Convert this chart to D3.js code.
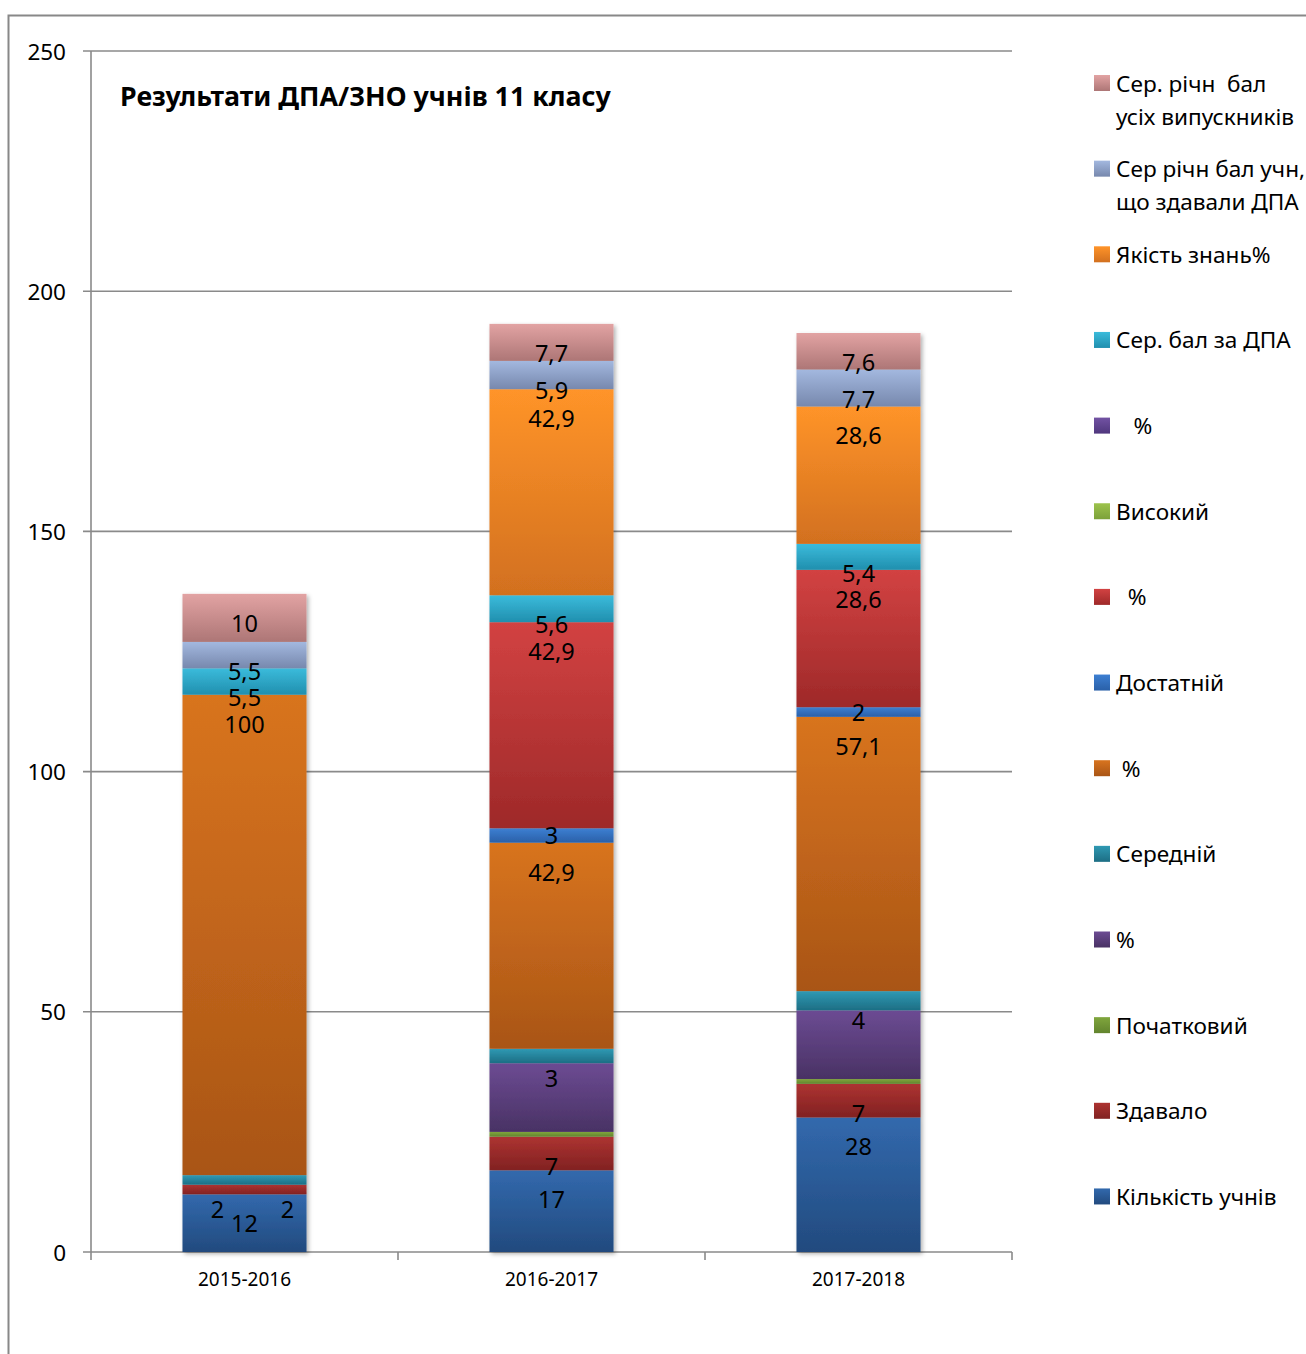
<!DOCTYPE html>
<html><head><meta charset="utf-8">
<script src="https://cdn.jsdelivr.net/npm/d3@7/dist/d3.min.js"></script>
<style>
html,body{margin:0;padding:0;background:#fff;}
svg{display:block;font-family:"Noto Sans","DejaVu Sans",sans-serif;}
</style></head>
<body>
<svg id="chart" width="1306" height="1354"></svg>
<script>
// ---- data ----
const categories = ["2015-2016", "2016-2017", "2017-2018"];
const seriesNames = [
  "Кількість учнів", "Здавало", "Початковий", "%", "Середній", " %",
  "Достатній", "  %", "Високий", "   %", "Сер. бал за ДПА", "Якість знань%",
  "Сер річн бал учн,|що здавали ДПА", "Сер. річн  бал|усіх випускників"
];
const kilkist      = [12, 17, 28];
const zdavalo      = [2, 7, 7];
const pochatkovyi  = [0, 1, 1];
const pctPoch      = [0, 14.3, 14.3];
const serednii     = [2, 3, 4];
const pctSer       = [100, 42.9, 57.1];
const dostatnii    = [0, 3, 2];
const pctDost      = [0, 42.9, 28.6];
const vysokyi      = [0, 0, 0];
const pctVys       = [0, 0, 0];
const serBalDPA    = [5.5, 5.6, 5.4];
const yakist       = [0, 42.9, 28.6];
const serRichnDPA  = [5.5, 5.9, 7.7];
const serRichnAll  = [10, 7.7, 7.6];
const seriesValues = [kilkist, zdavalo, pochatkovyi, pctPoch, serednii, pctSer,
  dostatnii, pctDost, vysokyi, pctVys, serBalDPA, yakist, serRichnDPA, serRichnAll];
const showLabel = [true, true, false, false, true, true, true, true, true, true, true, true, true, true];
const yTicks = [0, 50, 100, 150, 200, 250];
const title = "Результати ДПА/ЗНО учнів 11 класу";

// colours (top -> bottom of each segment)
const colors = [
  ["#3269ad", "#224a7e"], ["#ad3331", "#812222"], ["#80a63d", "#62842e"],
  ["#6c4b93", "#493264"], ["#2f99b3", "#1d6e84"], ["#d8741f", "#a95516"],
  ["#3d7fd2", "#2a60a8"], ["#d24242", "#9e2929"], ["#9dc34c", "#7ca13a"],
  ["#7252a3", "#4f377d"], ["#3bbbdb", "#208fae"], ["#ff9429", "#d2701f"],
  ["#a3b8df", "#7788ad"], ["#e2a3a3", "#ad7676"]
];

// ---- layout ----
const svg = d3.select("#chart");
const plot = {left: 91, right: 1012, top: 51, bottom: 1252};
const x = d3.scaleBand().domain(categories).range([plot.left, plot.right])
  .paddingInner(0.596).paddingOuter(0.298);
const y = d3.scaleLinear().domain([0, 250]).range([plot.bottom, plot.top]);

const defs = svg.append("defs");
colors.forEach((c, i) => {
  const g = defs.append("linearGradient").attr("id", "g" + i)
    .attr("x1", 0).attr("y1", 0).attr("x2", 0).attr("y2", 1);
  g.append("stop").attr("offset", "0%").attr("stop-color", c[0]);
  g.append("stop").attr("offset", "100%").attr("stop-color", c[1]);
});
const f = defs.append("filter").attr("id", "shadow")
  .attr("x", "-10%").attr("y", "-10%").attr("width", "130%").attr("height", "130%");
f.append("feDropShadow").attr("dx", 2).attr("dy", 2).attr("stdDeviation", 2)
  .attr("flood-color", "#000").attr("flood-opacity", 0.3);

// outer border (top + left)
svg.append("path").attr("d", "M8.5,1354 V15.5 H1306")
  .attr("fill", "none").attr("stroke", "#888").attr("stroke-width", 2);

// gridlines
svg.append("g").selectAll("line").data(yTicks).join("line")
  .attr("x1", plot.left - 8).attr("x2", plot.right)
  .attr("y1", d => y(d)).attr("y2", d => y(d))
  .attr("stroke", "#8a8a8a").attr("stroke-width", 1.6);

// y axis line
svg.append("line").attr("x1", plot.left).attr("x2", plot.left)
  .attr("y1", plot.top).attr("y2", plot.bottom)
  .attr("stroke", "#8a8a8a").attr("stroke-width", 1.6);

// y tick labels
svg.append("g").selectAll("text").data(yTicks).join("text")
  .attr("x", 66).attr("y", d => y(d)).attr("text-anchor", "end")
  .attr("dominant-baseline", "central").attr("font-size", 22.5).attr("fill", "#000")
  .text(d => d);

// x tick marks at category boundaries
const step = x.step(), bw = x.bandwidth();
const bounds = categories.map(c => x(c) - (step - bw) / 2).concat([plot.right]);
svg.append("g").selectAll("line").data(bounds).join("line")
  .attr("x1", d => d).attr("x2", d => d).attr("y1", plot.bottom).attr("y2", plot.bottom + 8)
  .attr("stroke", "#8a8a8a").attr("stroke-width", 1.6);

// x labels
svg.append("g").selectAll("text").data(categories).join("text")
  .attr("x", d => x(d) + bw / 2).attr("y", plot.bottom + 27)
  .attr("text-anchor", "middle").attr("dominant-baseline", "central")
  .attr("font-size", 19).attr("fill", "#000").text(d => d);

// stack
const table = categories.map((c, ci) => {
  const o = {cat: c};
  seriesValues.forEach((s, si) => o["s" + si] = s[ci]);
  return o;
});
const keys = seriesValues.map((s, i) => "s" + i);
const stacked = d3.stack().keys(keys)(table);

const barG = svg.append("g").attr("filter", "url(#shadow)");
stacked.forEach((layer, si) => {
  barG.append("g").selectAll("rect").data(layer.filter(d => d[1] - d[0] > 0)).join("rect")
    .attr("x", d => x(d.data.cat)).attr("width", bw)
    .attr("y", d => y(d[1])).attr("height", d => y(d[0]) - y(d[1]))
    .attr("fill", "url(#g" + si + ")");
});

// labels ("inside end" style, with collision handling)
const fmt = v => String(v).replace(".", ",");
const minGap = 18;
categories.forEach((c, ci) => {
  const cx = x(c) + bw / 2;
  const labs = [];
  stacked.forEach((layer, si) => {
    const d = layer[ci];
    const v = seriesValues[si][ci];
    if (!showLabel[si] || !(v > 0)) return;
    const top = y(d[1]), bot = y(d[0]);
    labs.push({x: cx, y: top + 29, def: top + 29, mid: (top + bot) / 2, t: fmt(v)});
  });
  for (let i = 1; i < labs.length; i++) {
    const below = labs[i - 1], cur = labs[i];
    if (below.y - cur.y < minGap) {
      cur.y = Math.min(cur.y, cur.mid);
      if (below.y - cur.y < minGap) {
        const ny = (below.def + cur.def) / 2;
        below.x = cx - 27; cur.x = cx + 43; below.y = ny; cur.y = ny;
      }
    }
  }
  svg.append("g").selectAll("text").data(labs).join("text")
    .attr("x", d => d.x).attr("y", d => d.y).attr("text-anchor", "middle")
    .attr("dominant-baseline", "central").attr("font-size", 23.5).attr("fill", "#000")
    .text(d => d.t);
});

// title
svg.append("text").attr("x", 120).attr("y", 95).attr("dominant-baseline", "central")
  .attr("font-size", 26.8).attr("font-weight", "bold").attr("fill", "#000").text(title);

// legend (reverse order)
const legItems = seriesNames.map((n, i) => ({n, i})).reverse();
const lg = svg.append("g");
legItems.forEach((d, k) => {
  const cy = 83 + k * 85.65;
  lg.append("rect").attr("x", 1094).attr("y", cy - 8).attr("width", 16).attr("height", 16)
    .attr("fill", "url(#g" + d.i + ")");
  const lines = d.n.split("|");
  lines.forEach((ln, li) => {
    lg.append("text").attr("x", 1116).attr("y", cy + li * 33)
      .attr("dominant-baseline", "central").attr("font-size", 22.6).attr("fill", "#000")
      .style("white-space", "pre").text(ln);
  });
});
</script>
</body></html>
